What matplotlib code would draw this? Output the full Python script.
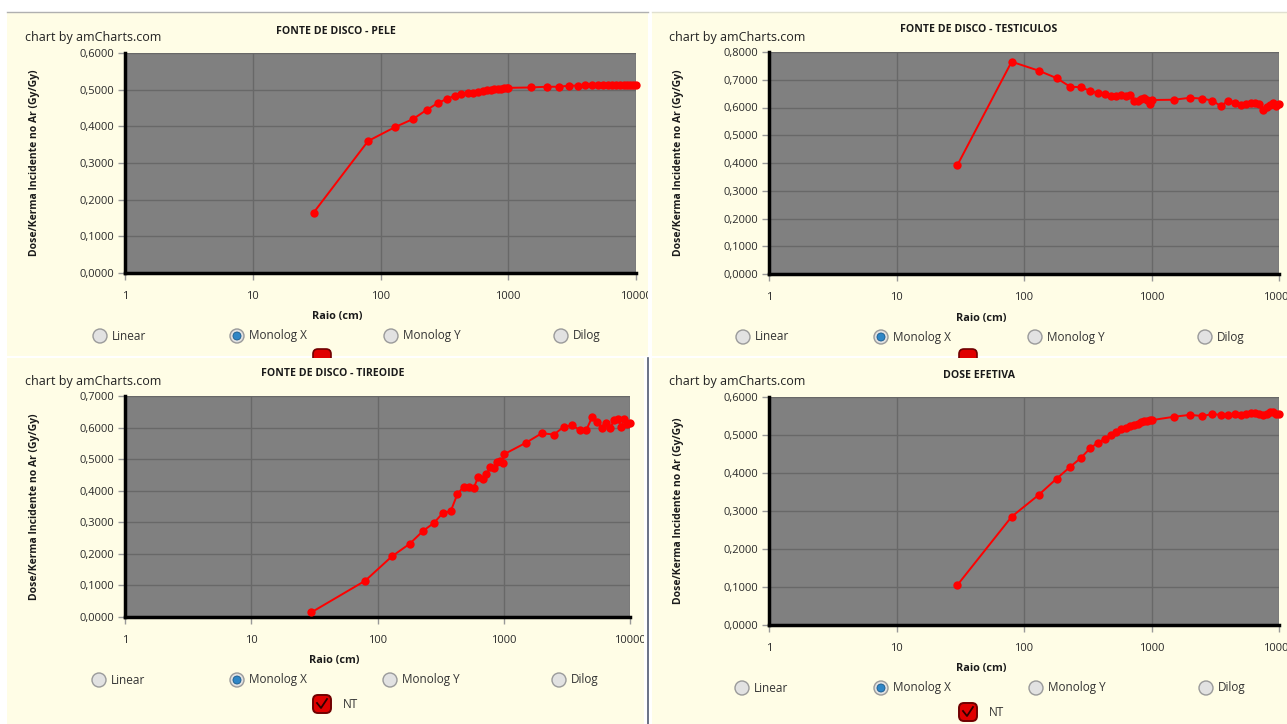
import matplotlib.pyplot as plt
from matplotlib.patches import Rectangle, Circle, FancyBboxPatch
from matplotlib.ticker import FixedLocator, FuncFormatter, NullLocator

plt.rcParams['font.family'] = ['Open Sans', 'DejaVu Sans']

# raio (cm)
raio = [30, 80, 130, 180, 230, 280, 330, 380, 430, 480, 530, 580, 630, 680, 730,
        780, 830, 880, 930, 980, 1000, 1500, 2000, 2500, 3000, 3500, 4000, 4500,
        5000, 5500, 6000, 6500, 7000, 7500, 8000, 8500, 9000, 9500, 10000]

pele = [0.165, 0.360, 0.398, 0.420, 0.445, 0.463, 0.475, 0.483, 0.488, 0.490,
        0.492, 0.494, 0.496, 0.498, 0.500, 0.501, 0.502, 0.503, 0.504, 0.505,
        0.505, 0.506, 0.508, 0.508, 0.511, 0.511, 0.512, 0.512, 0.512, 0.512,
        0.513, 0.512, 0.513, 0.512, 0.513, 0.512, 0.513, 0.513, 0.513]

testiculos = [0.392, 0.765, 0.733, 0.706, 0.675, 0.673, 0.660, 0.652, 0.648, 0.643,
              0.640, 0.645, 0.641, 0.644, 0.625, 0.622, 0.632, 0.634, 0.628, 0.612,
              0.627, 0.628, 0.635, 0.632, 0.625, 0.605, 0.625, 0.618, 0.610, 0.614,
              0.616, 0.615, 0.612, 0.592, 0.603, 0.610, 0.617, 0.607, 0.611]

tireoide = [0.015, 0.115, 0.192, 0.232, 0.273, 0.298, 0.330, 0.335, 0.390, 0.412,
            0.412, 0.410, 0.445, 0.437, 0.452, 0.474, 0.472, 0.492, 0.495, 0.488,
            0.515, 0.552, 0.582, 0.578, 0.603, 0.607, 0.592, 0.592, 0.632, 0.617,
            0.600, 0.616, 0.600, 0.625, 0.628, 0.603, 0.627, 0.610, 0.614]

dose_efetiva = [0.105, 0.285, 0.342, 0.385, 0.416, 0.440, 0.465, 0.480, 0.490, 0.500,
                0.507, 0.515, 0.518, 0.525, 0.526, 0.528, 0.533, 0.536, 0.538, 0.540,
                0.539, 0.548, 0.553, 0.550, 0.555, 0.553, 0.552, 0.556, 0.553, 0.556,
                0.557, 0.557, 0.556, 0.553, 0.556, 0.561, 0.560, 0.556, 0.554]

titulos = ['FONTE DE DISCO - PELE', 'FONTE DE DISCO - TESTICULOS',
           'FONTE DE DISCO - TIREOIDE', 'DOSE EFETIVA']
series = [pele, testiculos, tireoide, dose_efetiva]
ymax = [0.6, 0.8, 0.7, 0.6]
xticks = [1, 10, 100, 1000, 10000]
opcoes = ['Linear', 'Monolog X', 'Monolog Y', 'Dilog']

W, H = 1287, 724
fig = plt.figure(figsize=(W / 100, H / 100), dpi=100)
fig.patch.set_facecolor('white')

bg = fig.add_axes([0, 0, 1, 1])
bg.set_xlim(0, W)
bg.set_ylim(H, 0)
bg.axis('off')

creme = '#fffde6'

# panels: (x0, y0, x1, y1)
paineis = [(7, 12, 648, 356), (652, 12, 1287, 356), (7, 358, 644, 724), (652, 358, 1287, 724)]
# plot areas in pixels
areas = [(125, 53, 636, 273), (769, 52, 1279, 274), (125, 396, 630, 617), (769, 397, 1279, 625)]
# radio rows y and check box
radio_y = [336, 337, 680, 688]
radio_x = [[100, 237, 391, 561], [743, 881, 1035, 1205], [99, 237, 390, 559], [742, 881, 1036, 1206]]
check = [(322, 358), (968, 358), (322, 704), (968, 712)]

# checkbox peeks under top panels first
for i in range(2):
    cx, cy = check[i]
    bg.add_patch(FancyBboxPatch((cx - 9, cy - 9), 18, 18, boxstyle='round,pad=0,rounding_size=5',
                                fc='#e00000', ec='#700000', lw=1.2, zorder=1))

for i, (x0, y0, x1, y1) in enumerate(paineis):
    z = 2 if i >= 2 else 0
    bg.add_patch(Rectangle((x0, y0), x1 - x0, y1 - y0, fc=creme, ec='none', zorder=z))
bg.plot([7, 648], [12, 12], color='#b0b0b0', lw=1, zorder=3)
bg.plot([652, 1287], [12, 12], color='#e0e0d0', lw=1, zorder=3)
bg.plot([648, 648], [358, 724], color='#505a70', lw=1.2, zorder=3)

for i in range(4):
    x0, y0, x1, y1 = areas[i]
    cx = (x0 + x1) / 2
    bg.text(x0 - 100, y0 - 15, 'chart by amCharts.com', fontsize=9, color='#222222',
            va='center', ha='left', zorder=5)
    bg.text(cx - 45, y0 - 22, titulos[i], fontsize=7.6, fontweight='bold', color='#1a1a1a',
            ha='center', va='center', zorder=5)
    bg.text(x0 - 90, (y0 + y1) / 2, 'Dose/Kerma Incidente no Ar (Gy/Gy)', fontsize=7.5,
            fontweight='bold', rotation=90, ha='center', va='center', color='#1a1a1a', zorder=5)
    bg.text(cx - 43, y1 + 44, 'Raio (cm)', fontsize=7.8, fontweight='bold', color='#1a1a1a',
            ha='center', va='center', zorder=5)
    ry = radio_y[i]
    for j, rx in enumerate(radio_x[i]):
        bg.add_patch(Circle((rx, ry), 7, fc='#e2e2e2', ec='#9a9a9a', lw=1, zorder=5))
        if j == 1:
            bg.add_patch(Circle((rx, ry), 4, fc='#2f86c6', ec='#1a5a8a', lw=0.6, zorder=6))
        bg.text(rx + 12, ry, opcoes[j], fontsize=8.5, color='#333333', va='center', ha='left', zorder=5)
    if i >= 2:
        cbx, cby = check[i]
        bg.add_patch(FancyBboxPatch((cbx - 9, cby - 9), 18, 18, boxstyle='round,pad=0,rounding_size=5',
                                    fc='#e00000', ec='#700000', lw=1.4, zorder=5))
        bg.plot([cbx - 5, cbx - 1, cbx + 5], [cby - 1, cby + 4, cby - 5], color='#300000', lw=1.3, zorder=6)
        bg.text(cbx + 21, cby, 'NT', fontsize=8.5, color='#333333', va='center', ha='left', zorder=5)

for i in range(4):
    x0, y0, x1, y1 = areas[i]
    ax = fig.add_axes([x0 / W, 1 - y1 / H, (x1 - x0) / W, (y1 - y0) / H])
    ax.set_facecolor('#808080')
    ax.set_xscale('log')
    ax.set_xlim(1, 10000)
    ax.set_ylim(0, ymax[i])
    ax.plot(raio, series[i], color='#ff0000', lw=1.4, marker='o', markersize=6,
            markeredgewidth=0, clip_on=False, zorder=3)
    ax.xaxis.set_major_locator(FixedLocator(xticks))
    ax.xaxis.set_minor_locator(NullLocator())
    ax.xaxis.set_major_formatter(FuncFormatter(lambda v, p: str(int(v))))
    ax.yaxis.set_major_locator(FixedLocator([k / 10 for k in range(int(round(ymax[i] * 10)) + 1)]))
    ax.yaxis.set_major_formatter(FuncFormatter(lambda v, p: f'{v:.4f}'.replace('.', ',')))
    ax.grid(True, color='#686868', lw=1)
    ax.set_axisbelow(True)
    for s in ['top', 'right']:
        ax.spines[s].set_visible(False)
    for s in ['left', 'bottom']:
        ax.spines[s].set_color('black')
        ax.spines[s].set_linewidth(2.5)
    ax.tick_params(axis='both', length=5, width=1, color='#999999', labelsize=8,
                   labelcolor='#2a2a2a', pad=3)
    ax.tick_params(axis='x', pad=8)
    # clip tick labels to panel
    px0, py0, px1, py1 = paineis[i]
    r = Rectangle((px0 / W, 1 - py1 / H), (px1 - px0) / W, (py1 - py0) / H,
                  transform=fig.transFigure, fc='none', ec='none')
    fig.add_artist(r)
    for t in ax.xaxis.get_major_ticks():
        t.label1.set_clip_path(r)

fig.savefig('out.png', dpi=100)
